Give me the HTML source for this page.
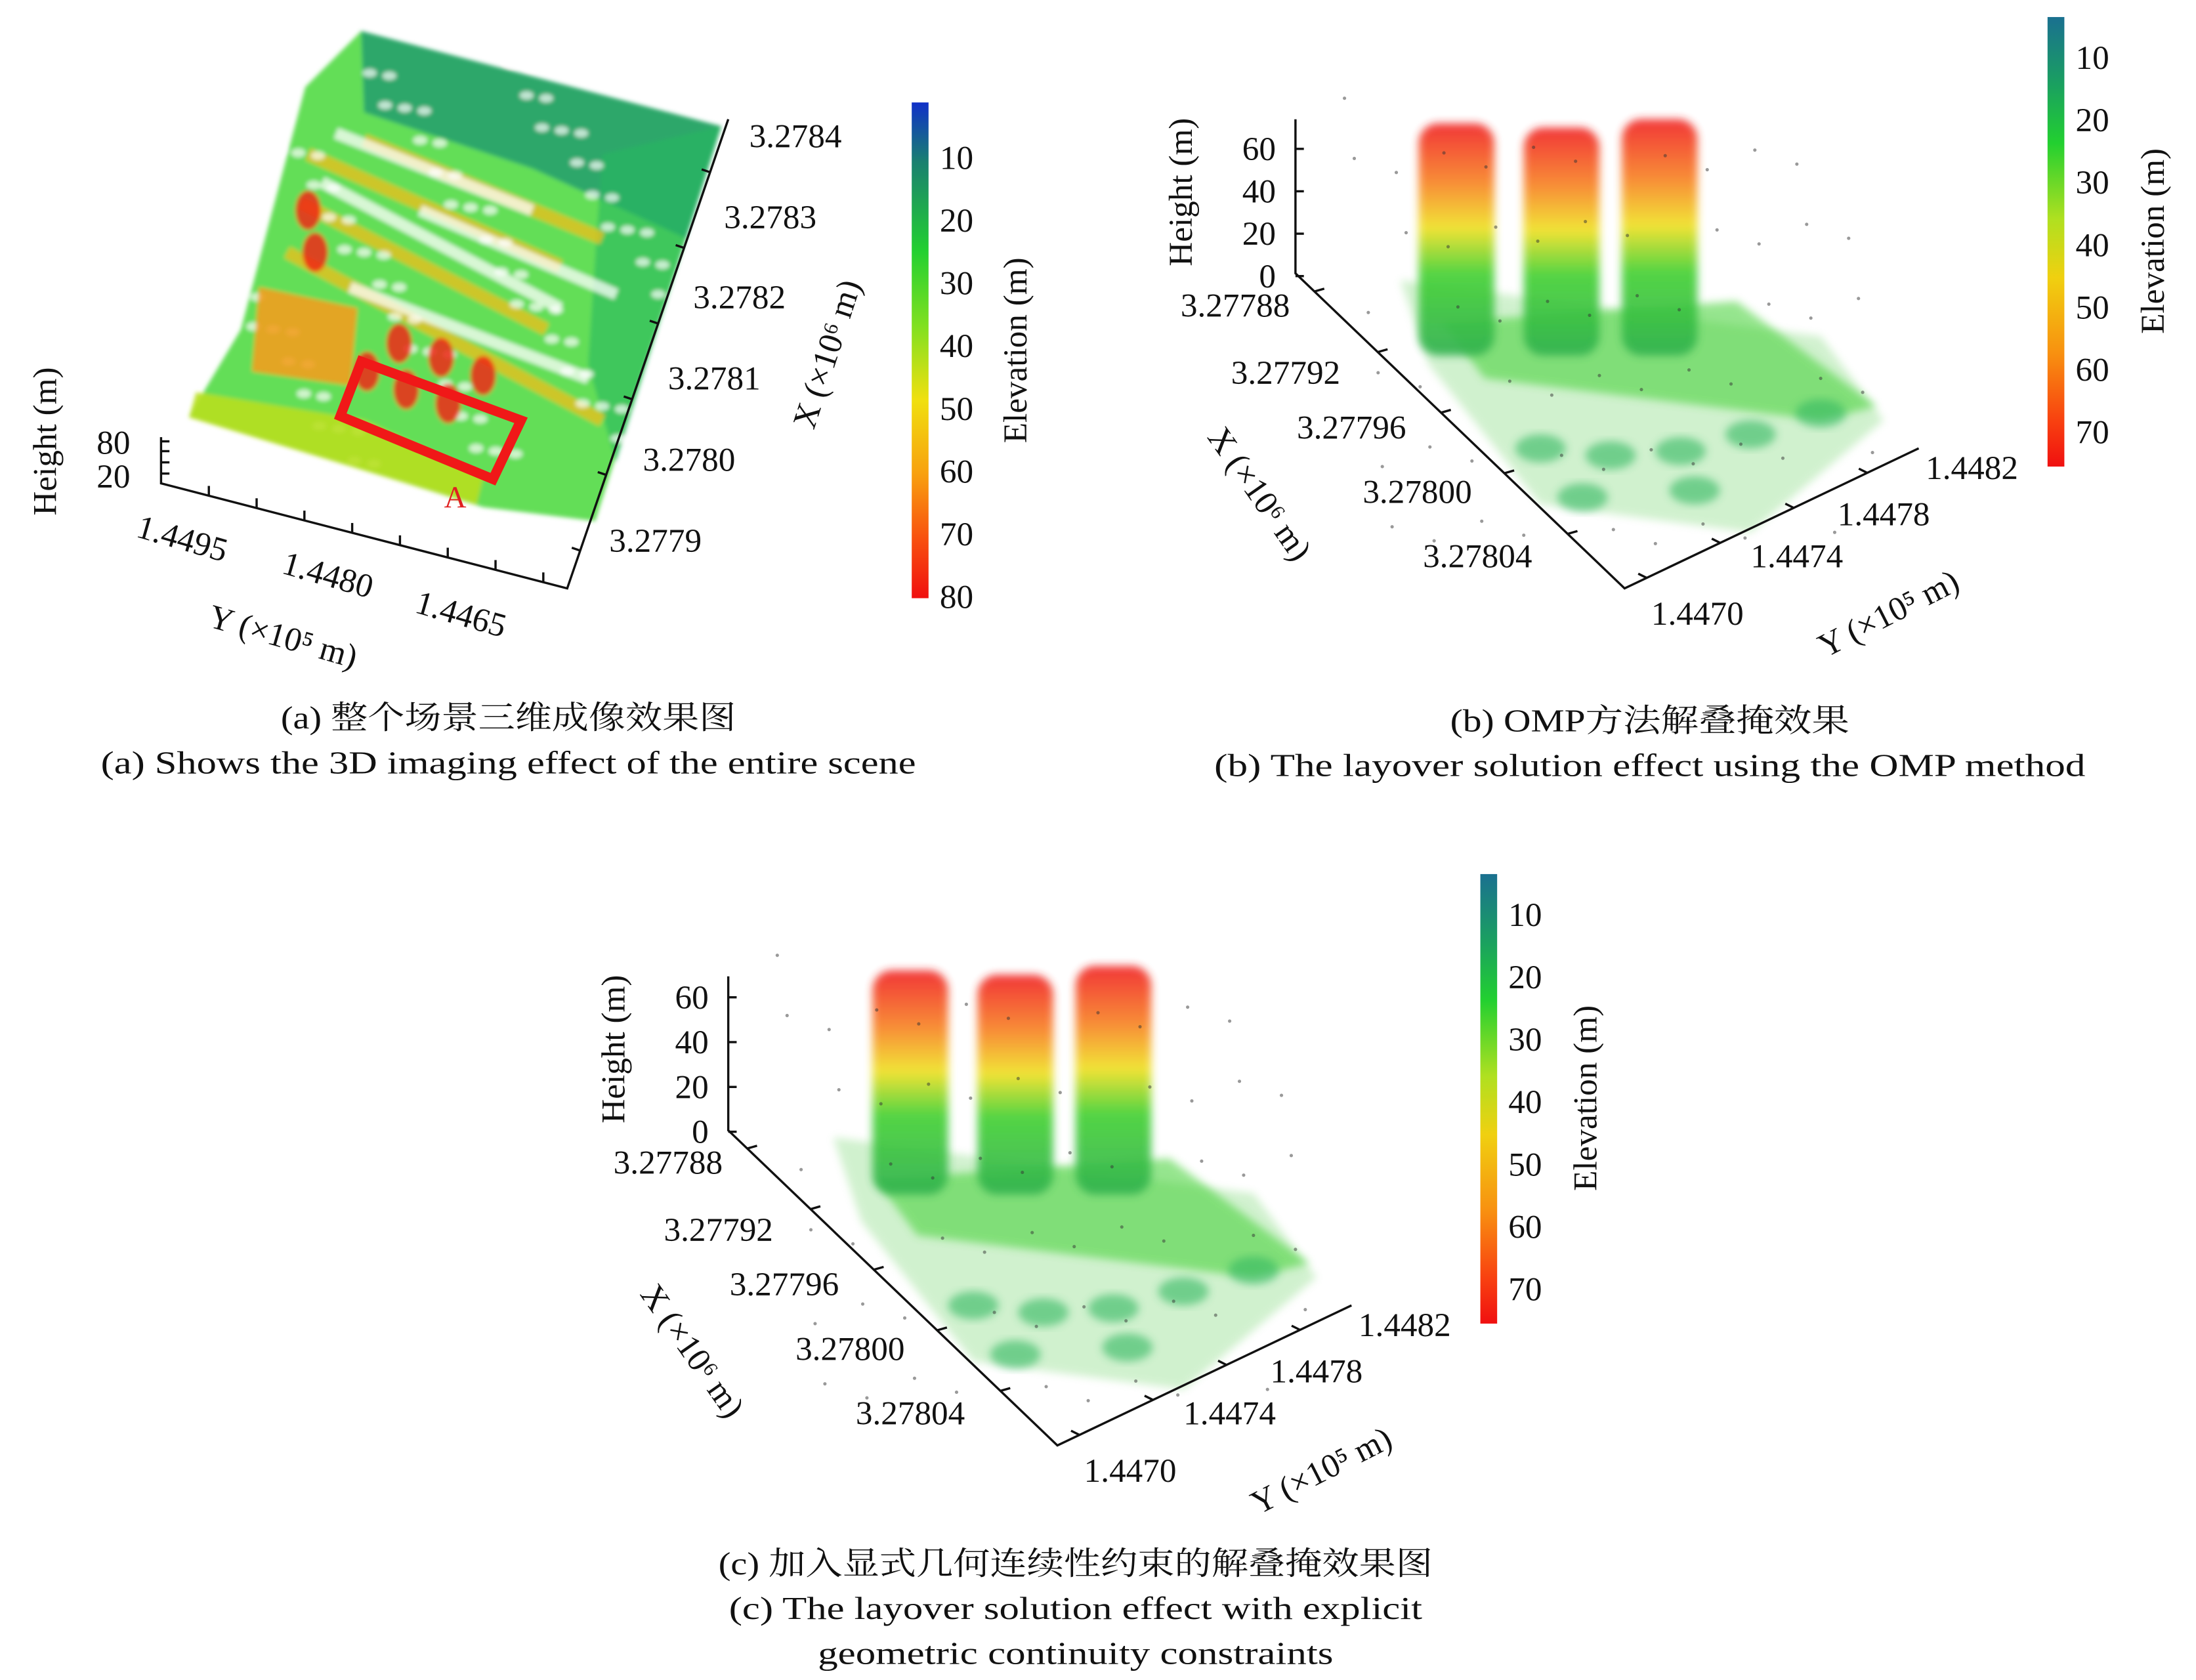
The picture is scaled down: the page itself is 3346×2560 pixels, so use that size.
<!DOCTYPE html>
<html><head><meta charset="utf-8"><style>
html,body{margin:0;padding:0;background:#fff;}
svg text{font-family:"Liberation Serif","Noto Serif CJK SC",serif;fill:#111;}
</style></head><body>
<svg id="fig" width="3346" height="2555" viewBox="0 0 1568 1197" xmlns="http://www.w3.org/2000/svg">
<defs>
<linearGradient id="cbA" x1="0" y1="0" x2="0" y2="1">
<stop offset="0" stop-color="#1030c8"/><stop offset="0.12" stop-color="#1a8070"/><stop offset="0.3" stop-color="#22d030"/><stop offset="0.45" stop-color="#80e020"/><stop offset="0.6" stop-color="#f0e010"/><stop offset="0.75" stop-color="#f8a010"/><stop offset="0.88" stop-color="#f85010"/><stop offset="1" stop-color="#f01010"/></linearGradient>
<linearGradient id="cbB" x1="0" y1="0" x2="0" y2="1">
<stop offset="0" stop-color="#1a7090"/><stop offset="0.15" stop-color="#1aa060"/><stop offset="0.28" stop-color="#22d030"/><stop offset="0.45" stop-color="#b0e020"/><stop offset="0.58" stop-color="#f0d010"/><stop offset="0.75" stop-color="#f89010"/><stop offset="0.9" stop-color="#f84010"/><stop offset="1" stop-color="#f01010"/></linearGradient>
<linearGradient id="tower" x1="0" y1="0" x2="0" y2="1">
<stop offset="0" stop-color="#f02020"/><stop offset="0.25" stop-color="#f88020"/><stop offset="0.45" stop-color="#f0e020"/><stop offset="0.65" stop-color="#40d030"/><stop offset="1" stop-color="#30b050"/></linearGradient>
<filter id="blur" x="-20%" y="-20%" width="140%" height="140%"><feGaussianBlur stdDeviation="3"/></filter>
<filter id="blur2"><feGaussianBlur stdDeviation="1.5"/></filter>
</defs>
<g id="panels"></g>
</svg>
<script>
// colorbar tick data
const cbTicksA=[10,20,30,40,50,60,70,80];
const cbTicksB=[10,20,30,40,50,60,70];
// panel a axis ticks
const aYTicks=["1.4495","1.4480","1.4465"];
const aXTicks=["3.2784","3.2783","3.2782","3.2781","3.2780","3.2779"];
const bXTicks=["3.27788","3.27792","3.27796","3.27800","3.27804"];
const bYTicks=["1.4470","1.4474","1.4478","1.4482"];
const hTicks=[60,40,20,0];
// tower elevations (top, bottom) in metres for panels b/c
const towerTop=[72,70,74];
const towerBottom=[22,22,22];

const FS=24;
const NS="http://www.w3.org/2000/svg";
const root=document.getElementById('panels');
function el(tag,attrs,parent,txt){const e=document.createElementNS(NS,tag);for(const k in attrs)e.setAttribute(k,attrs[k]);if(txt!==undefined)e.textContent=txt;(parent||root).appendChild(e);return e;}
function lerp(a,b,t){return [a[0]+(b[0]-a[0])*t,a[1]+(b[1]-a[1])*t];}
function cbY(v,top,bot,lo,hi){return top+(v-lo)/(hi-lo)*(bot-top);}
function caption(g,x,y,t,w){el('text',{x:x-w/2,y:y,'font-size':23,textLength:w,lengthAdjust:'spacingAndGlyphs'},g,t);}

// ---------- Panel A ----------
const gA=el('g',{});


const cloudA=el('g',{filter:'url(#blur2)'},gA);


el('polygon',{points:'258,22 515,90 425,372 345,362 135,297 172,235 218,62',fill:'#48d838',opacity:0.85},cloudA);
el('polygon',{points:'258,22 515,90 490,170 380,120 260,80',fill:'#1f9a70',opacity:0.8},cloudA);
el('polygon',{points:'430,110 515,90 440,330 420,260',fill:'#2ab860',opacity:0.6},cloudA);
[[220,110,400,190],[215,145,390,235],[205,180,430,300],[260,100,430,170]].forEach(s=>{el('line',{x1:s[0],y1:s[1],x2:s[2],y2:s[3],stroke:'#e8c020','stroke-width':9,opacity:0.8},cloudA);});
[[240,95,380,150],[230,130,400,220],[250,205,420,270],[300,150,440,210]].forEach(s=>{el('line',{x1:s[0],y1:s[1],x2:s[2],y2:s[3],stroke:'#fff','stroke-width':8,opacity:0.75},cloudA);});
for(let k=0;k<90;k++){const x=180+((k*47)%300),y=40+((k*71)%300);el('ellipse',{cx:x,cy:y,rx:5,ry:3,fill:'#fff',opacity:0.7},cloudA);}
el('polygon',{points:'185,205 255,220 250,275 180,265',fill:'#f2a020',opacity:0.9},cloudA);
el('polygon',{points:'140,280 260,300 345,340 340,360 135,298',fill:'#b8e020',opacity:0.9},cloudA);
[[262,265],[290,278],[320,288],[285,245],[315,255],[345,268],[220,150],[225,180]].forEach(p=>{el('ellipse',{cx:p[0],cy:p[1],rx:9,ry:14,fill:'#f02818',opacity:0.85},cloudA);});
const boxA=el('polygon',{points:'258,258 372,300 352,342 243,297',fill:'none',stroke:'#f01818','stroke-width':7},gA);

const lblA=el('text',{x:325,y:362,'font-size':22,'text-anchor':'middle',style:'fill:#e02020'},gA,'A');

const axA=el('g',{stroke:'#111','stroke-width':1.6,fill:'none'},gA);

el('polyline',{points:'115,312 115,345 405,420 520,85'},axA);
for(let i=0;i<8;i++){const p=lerp([115,345],[405,420],(i+1)/8.5);el('line',{x1:p[0],y1:p[1],x2:p[0],y2:p[1]-7},axA);}
for(let i=0;i<6;i++){const p=lerp([405,420],[520,85],(i+0.5)/6.2);el('line',{x1:p[0],y1:p[1],x2:p[0]-6,y2:p[1]-2},axA);}
[315,322,330,338].forEach(y=>el('line',{x1:115,y1:y,x2:121,y2:y},axA));
el('text',{x:93,y:324,'font-size':FS,'text-anchor':'end'},gA,'80');
el('text',{x:93,y:348,'font-size':FS,'text-anchor':'end'},gA,'20');
aYTicks.forEach((t,i)=>{const x=[128,232,327][i],y=[392,418,446][i];el('text',{x:x,y:y,'font-size':FS,'text-anchor':'middle',transform:`rotate(16 ${x} ${y})`},gA,t);});
aXTicks.forEach((t,i)=>{const x=[568,550,528,510,492,468][i],y=[105,163,220,278,336,394][i];el('text',{x:x,y:y,'font-size':FS,'text-anchor':'middle'},gA,t);});
el('text',{x:200,y:462,'font-size':FS,'text-anchor':'middle',transform:'rotate(16 200 462)'},gA,'Y (×10⁵ m)');
el('text',{x:598,y:255,'font-size':FS,'text-anchor':'middle',transform:'rotate(-72 598 255)'},gA,'X (×10⁶ m)');
el('text',{x:40,y:315,'font-size':FS,'text-anchor':'middle',transform:'rotate(-90 40 315)'},gA,'Height (m)');
const cbA=el('rect',{x:651,y:73,width:12,height:354,fill:'url(#cbA)'},gA);

cbTicksA.forEach(v=>{const y=cbY(v,73,427,1.2,80.2);el('text',{x:671,y:y+8,'font-size':FS},gA,String(v));});
el('text',{x:733,y:250,'font-size':FS,'text-anchor':'middle',transform:'rotate(-90 733 250)'},gA,'Elevation (m)');
caption(gA,363,520,'(a) 整个场景三维成像效果图',325);
caption(gA,363,552,'(a) Shows the 3D imaging effect of the entire scene',582);

// ---------- Panels B & C ----------
function panel(name,o,cap){
 const g=el('g',{transform:`translate(${o.dx},${o.dy})`});
 
 
 const c=el('g',{},g);
 
 
 el('polygon',{points:'1000,200 1300,240 1345,300 1250,380 1100,360 1020,260',fill:'#48c840',opacity:0.25,filter:'url(#blur)'},c);
 el('polygon',{points:'1030,230 1240,215 1340,290 1300,300 1060,270',fill:'#40d030',opacity:0.55,filter:'url(#blur)'},c);
 [[1100,320],[1150,325],[1200,322],[1250,310],[1300,295],[1130,355],[1210,350]].forEach(p=>el('ellipse',{cx:p[0],cy:p[1],rx:18,ry:10,fill:'#30b860',opacity:0.6,filter:'url(#blur)'},c));
 const tx=[1040,1115,1185];
 const hy=v=>o.h0-(v/70)*o.hs;
 tx.forEach((x,i)=>{const y1=hy(towerTop[i]),y2=hy(towerBottom[i])+o.tb;
  const r=el('rect',{x:x+o.tx-27,y:y1,width:54,height:y2-y1,rx:14,fill:'url(#tower)',opacity:0.9,filter:'url(#blur)'},c);
  
  });
 for(let k=0;k<60;k++){const x=960+((k*37)%380),y=70+((k*53)%320);el('circle',{cx:x,cy:y,r:1.2,fill:'#333',opacity:0.5},c);}
 const ax=el('g',{stroke:'#111','stroke-width':1.6,fill:'none'},g);
 
 el('polyline',{points:'925,85 925,195 1160,420 1370,320'},ax);
 hTicks.forEach(v=>{const y=hy(v);el('line',{x1:925,y1:y,x2:931,y2:y},ax);el('text',{x:911,y:y+8,'font-size':FS,'text-anchor':'end',stroke:'none'},g,String(v));});
 bXTicks.forEach((t,i)=>{const p=lerp([925,195],[1160,420],(i+0.3)/5.2);el('line',{x1:p[0],y1:p[1],x2:p[0]+7,y2:p[1]-2},ax);el('text',{x:[882,918,965,1012,1055][i],y:[226,274,313,359,405][i],'font-size':FS,'text-anchor':'middle'},g,t);});
 bYTicks.forEach((t,i)=>{const p=lerp([1160,420],[1370,320],(i+0.3)/4);el('line',{x1:p[0],y1:p[1],x2:p[0]-6,y2:p[1]-3},ax);el('text',{x:[1212,1283,1345,1408][i],y:[446,405,375,342][i],'font-size':FS,'text-anchor':'middle'},g,t);});
 el('text',{x:1352,y:445,'font-size':FS,'text-anchor':'middle',transform:'rotate(-27 1352 445)'},g,'Y (×10⁵ m)');
 el('text',{x:893,y:357,'font-size':FS,'text-anchor':'middle',transform:'rotate(55 893 357)'},g,'X (×10⁶ m)');
 el('text',{x:851,y:137,'font-size':FS,'text-anchor':'middle',transform:'rotate(-90 851 137)'},g,'Height (m)');
 const cb=el('rect',{x:1462,y:12,width:12,height:321,fill:'url(#cbB)'},g);
 
 cbTicksB.forEach(v=>{const y=cbY(v,12,333,3.5,75.5);el('text',{x:1482,y:y+8,'font-size':FS},g,String(v));});
 el('text',{x:1545,y:172,'font-size':FS,'text-anchor':'middle',transform:'rotate(-90 1545 172)'},g,'Elevation (m)');
 cap.forEach((t,i)=>caption(g,o.capx,o.capy+32*i,t[0],t[1]));
}
panel('panel-b',{dx:0,dy:0,h0:197,hs:106,tb:90,tx:0,capx:1178,capy:522},[['(b) OMP方法解叠掩效果',285],['(b) The layover solution effect using the OMP method',622]]);
panel('panel-c',{dx:-405,dy:612,h0:196,hs:112,tb:80,tx:15,capx:1173,capy:512},[['(c) 加入显式几何连续性约束的解叠掩效果图',510],['(c) The layover solution effect with explicit',495],['geometric continuity constraints',368]]);
</script>
</body></html>
